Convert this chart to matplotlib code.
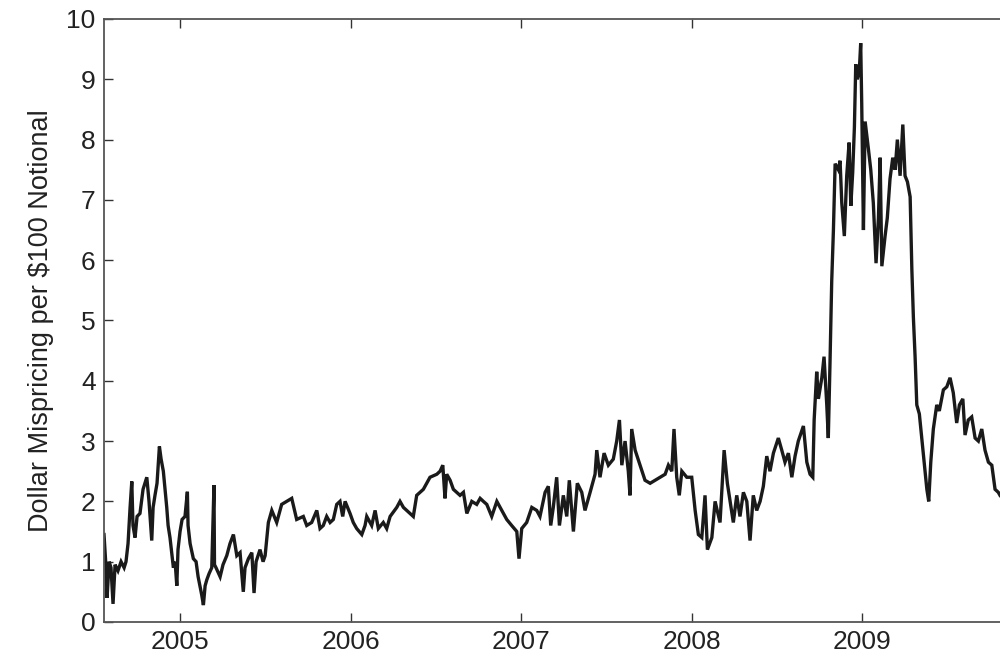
import matplotlib
matplotlib.use("Agg")
import matplotlib.pyplot as plt

# date (decimal year) and mispricing
t = [
    2004.554, 2004.566, 2004.572, 2004.584, 2004.595, 2004.607, 2004.619, 2004.636, 2004.654, 2004.672,
    2004.683, 2004.695, 2004.707, 2004.717, 2004.724, 2004.736, 2004.748, 2004.765, 2004.783, 2004.805,
    2004.818, 2004.834, 2004.842, 2004.853, 2004.865, 2004.879, 2004.889, 2004.902, 2004.912, 2004.922,
    2004.930, 2004.941, 2004.953, 2004.961, 2004.971, 2004.981, 2004.988, 2005.000, 2005.012, 2005.029,
    2005.043, 2005.047, 2005.059, 2005.078, 2005.094, 2005.106, 2005.127, 2005.137, 2005.147, 2005.157,
    2005.170, 2005.186, 2005.199, 2005.202, 2005.211, 2005.235, 2005.252, 2005.274, 2005.293, 2005.313,
    2005.333, 2005.352, 2005.371, 2005.381, 2005.401, 2005.421, 2005.434, 2005.446, 2005.469, 2005.487,
    2005.499, 2005.518, 2005.538, 2005.567, 2005.596, 2005.626, 2005.655, 2005.684,
    2005.723, 2005.743, 2005.772, 2005.802, 2005.821, 2005.840, 2005.860, 2005.880, 2005.899, 2005.919,
    2005.938, 2005.954, 2005.968, 2005.997, 2006.016, 2006.036, 2006.066, 2006.085, 2006.095, 2006.124,
    2006.144, 2006.163, 2006.192, 2006.212, 2006.232, 2006.271, 2006.290, 2006.310, 2006.349, 2006.368,
    2006.388, 2006.427, 2006.466, 2006.506, 2006.525, 2006.541, 2006.554, 2006.564, 2006.584, 2006.603,
    2006.642, 2006.662, 2006.682, 2006.711, 2006.740, 2006.760, 2006.779,
    2006.799, 2006.828, 2006.858, 2006.887, 2006.916, 2006.945, 2006.975, 2006.988, 2007.004, 2007.033,
    2007.063, 2007.092, 2007.111, 2007.141, 2007.160, 2007.174, 2007.189, 2007.209, 2007.225, 2007.248,
    2007.268, 2007.283, 2007.307, 2007.330, 2007.356, 2007.375, 2007.405, 2007.434, 2007.444, 2007.463,
    2007.487, 2007.512, 2007.541, 2007.561, 2007.577, 2007.591, 2007.610, 2007.629, 2007.639, 2007.649,
    2007.669, 2007.698, 2007.727, 2007.757, 2007.786, 2007.815, 2007.845, 2007.864, 2007.884, 2007.897,
    2007.913, 2007.928,
    2007.943, 2007.972, 2008.001, 2008.021, 2008.040, 2008.060, 2008.079, 2008.093, 2008.119, 2008.138,
    2008.167, 2008.191, 2008.210, 2008.226, 2008.245, 2008.265, 2008.284, 2008.304, 2008.324, 2008.343,
    2008.362, 2008.382, 2008.402, 2008.421, 2008.441, 2008.460, 2008.480, 2008.509, 2008.529, 2008.548,
    2008.568, 2008.588, 2008.607, 2008.626, 2008.656, 2008.676,
    2008.695, 2008.711, 2008.719, 2008.734, 2008.744, 2008.764, 2008.777, 2008.793, 2008.802, 2008.812,
    2008.822, 2008.832, 2008.842, 2008.861, 2008.871, 2008.881, 2008.896, 2008.910, 2008.924, 2008.934,
    2008.945, 2008.955, 2008.963, 2008.972, 2008.984, 2008.992, 2008.998, 2009.008, 2009.018, 2009.037,
    2009.051, 2009.066, 2009.082, 2009.096, 2009.106, 2009.116, 2009.135, 2009.148, 2009.164, 2009.180,
    2009.194, 2009.207, 2009.223, 2009.239, 2009.252, 2009.266, 2009.282, 2009.292, 2009.301, 2009.311,
    2009.321, 2009.336, 2009.350, 2009.364, 2009.380, 2009.391, 2009.403, 2009.418, 2009.438, 2009.453,
    2009.477, 2009.497, 2009.516, 2009.535, 2009.555, 2009.571, 2009.591, 2009.604, 2009.623, 2009.643,
    2009.663, 2009.682, 2009.702, 2009.721, 2009.741, 2009.761, 2009.780, 2009.799, 2009.809,
]
v = [
    1.45, 0.90, 0.40, 1.00, 0.90, 0.30, 0.95, 0.85, 1.00, 0.90,
    1.00, 1.30, 1.90, 2.33, 1.60, 1.40, 1.75, 1.80, 2.20, 2.40,
    2.00, 1.35, 1.90, 2.10, 2.30, 2.91, 2.70, 2.50, 2.20, 1.90,
    1.60, 1.40, 1.10, 0.90, 1.00, 0.60, 1.20, 1.50, 1.70, 1.75,
    2.16, 1.60, 1.30, 1.05, 1.00, 0.75, 0.45, 0.28, 0.60, 0.70,
    0.80, 0.90, 2.27, 0.95, 0.90, 0.75, 0.95, 1.10, 1.30, 1.45,
    1.10, 1.15, 0.50, 0.90, 1.05, 1.15, 0.48, 1.00, 1.20, 1.00,
    1.10, 1.65, 1.85, 1.65, 1.95, 2.00, 2.05, 1.70,
    1.75, 1.60, 1.65, 1.85, 1.55, 1.60, 1.75, 1.65, 1.70, 1.95,
    2.00, 1.75, 2.00, 1.80, 1.65, 1.55, 1.45, 1.60, 1.75, 1.60,
    1.85, 1.55, 1.65, 1.55, 1.75, 1.90, 2.00, 1.90, 1.80, 1.75,
    2.10, 2.20, 2.40, 2.45, 2.50, 2.60, 2.05, 2.45, 2.35, 2.20,
    2.10, 2.15, 1.80, 2.00, 1.95, 2.05, 2.00,
    1.95, 1.75, 2.00, 1.85, 1.70, 1.60, 1.50, 1.05, 1.55, 1.65,
    1.90, 1.85, 1.75, 2.15, 2.25, 1.60, 1.90, 2.40, 1.60, 2.10,
    1.75, 2.35, 1.50, 2.30, 2.15, 1.85, 2.15, 2.45, 2.85, 2.40,
    2.80, 2.60, 2.70, 3.00, 3.35, 2.60, 3.00, 2.50, 2.10, 3.20,
    2.85, 2.60, 2.35, 2.30, 2.35, 2.40, 2.45, 2.60, 2.50, 3.20,
    2.40, 2.10,
    2.50, 2.40, 2.40, 1.85, 1.45, 1.40, 2.10, 1.20, 1.40, 2.00,
    1.65, 2.85, 2.30, 2.00, 1.65, 2.10, 1.75, 2.15, 2.00, 1.35,
    2.10, 1.85, 2.00, 2.25, 2.75, 2.50, 2.80, 3.05, 2.85, 2.65,
    2.80, 2.40, 2.75, 3.00, 3.25, 2.65,
    2.45, 2.40, 3.35, 4.15, 3.70, 4.05, 4.40, 3.60, 3.05, 4.30,
    5.65, 6.50, 7.60, 7.50, 7.65, 6.95, 6.40, 7.40, 7.95, 6.90,
    7.45, 8.20, 9.25, 9.00, 9.15, 9.60, 8.60, 6.50, 8.30, 7.85,
    7.50, 6.95, 5.95, 6.70, 7.70, 5.90, 6.40, 6.70, 7.35, 7.70,
    7.50, 8.00, 7.40, 8.25, 7.40, 7.30, 7.05, 5.85, 5.05, 4.40,
    3.60, 3.45, 3.05, 2.65, 2.20, 2.00, 2.65, 3.20, 3.60, 3.50,
    3.85, 3.90, 4.05, 3.80, 3.30, 3.60, 3.70, 3.10, 3.35, 3.40,
    3.05, 3.00, 3.20, 2.85, 2.65, 2.60, 2.20, 2.15, 2.10,
]

year_ticks = [2005, 2006, 2007, 2008, 2009]
y_ticks = [0, 1, 2, 3, 4, 5, 6, 7, 8, 9, 10]

plt.rcParams['font.family'] = ['Liberation Sans', 'DejaVu Sans']

fig = plt.figure(figsize=(10, 6.69), dpi=100)
ax = fig.add_axes([0.104, 0.0703, 0.896, 0.9013])
ax.plot(t, v, color='#1a1a1a', linewidth=2.4, solid_joinstyle='miter')

ax.set_xlim(2004.554, 2009.809)
ax.set_ylim(0, 10)
ax.set_xticks(year_ticks)
ax.set_xticklabels([str(y) for y in year_ticks])
ax.set_yticks(y_ticks)
ax.tick_params(direction='in', length=6.5, width=1.0, color='#333333',
               labelsize=19, top=True, right=False, pad=6, labelcolor='#222222')
ax.tick_params(axis='y', pad=6)
for side in ['left', 'bottom', 'top']:
    ax.spines[side].set_color('#555555')
    ax.spines[side].set_linewidth(1.3)
ax.spines['right'].set_visible(False)

ax.set_ylabel('Dollar Mispricing per $100 Notional', fontsize=19.5,
              color='#222222', labelpad=9)

fig.savefig('out.png', dpi=100)
